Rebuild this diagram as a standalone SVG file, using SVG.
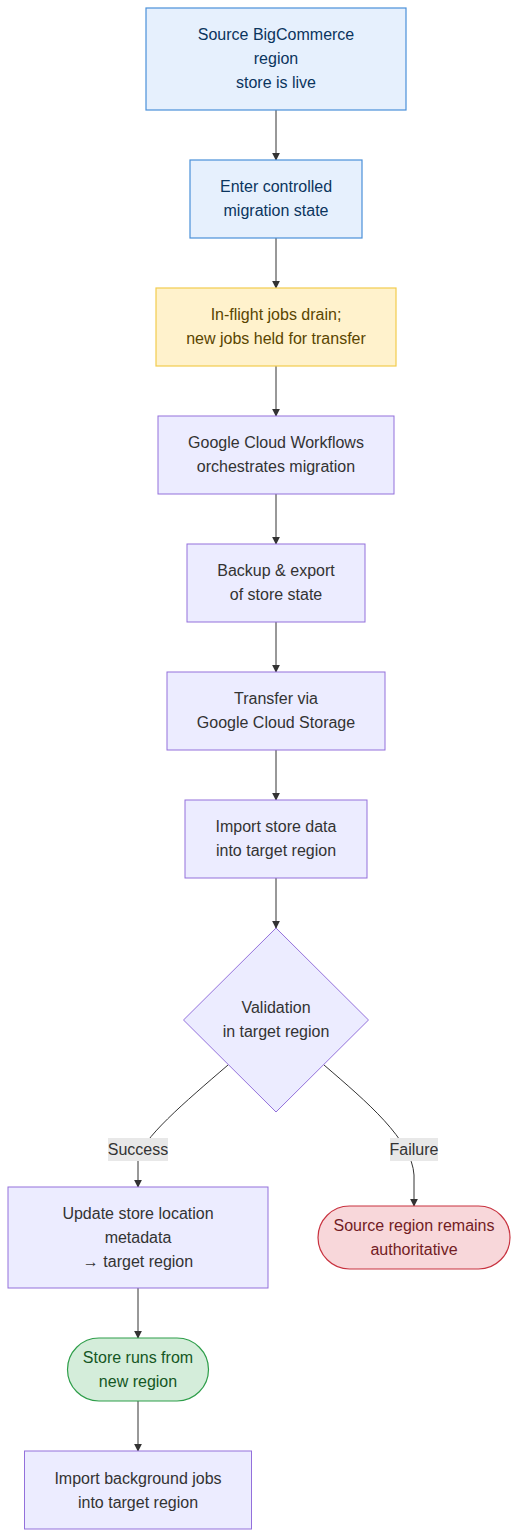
<svg xmlns="http://www.w3.org/2000/svg" width="518" height="1538" viewBox="0 0 518 1538">
<defs>
<marker id="arrow" viewBox="0 0 10 10" refX="9" refY="5" markerWidth="8" markerHeight="8" markerUnits="userSpaceOnUse" orient="auto">
<path d="M0,0 L10,5 L0,10 z" fill="#333333"/>
</marker>
<style>
text{font-family:"Liberation Sans",Arial,sans-serif;font-size:16px;text-anchor:middle;dominant-baseline:central;fill:#333333}
.def{fill:#ECECFF;stroke:#9370DB;stroke-width:1}
.blue{fill:#E6F0FD;stroke:#4A90D9;stroke-width:1.2}
.blue-t{fill:#0B355E}
.yel{fill:#FFF2CC;stroke:#F2CC4E;stroke-width:1.2}
.yel-t{fill:#5A4500}
.red{fill:#F8D7DA;stroke:#C8323F;stroke-width:1.2}
.red-t{fill:#721C24}
.grn{fill:#D4EDDA;stroke:#2E9E4A;stroke-width:1.2}
.grn-t{fill:#155724}
.edge{fill:none;stroke:#333333;stroke-width:1;marker-end:url(#arrow)}
.lbl{fill:#E8E8E8;stroke:none}
</style>
</defs>
<rect width="518" height="1538" fill="#FFFFFF"/>
<g id="connectors">
<path class="edge" d="M276,110 L276,160"/>
<path class="edge" d="M276,238 L276,288"/>
<path class="edge" d="M276,366 L276,416"/>
<path class="edge" d="M276,494 L276,544"/>
<path class="edge" d="M276,622 L276,672"/>
<path class="edge" d="M276,750 L276,800"/>
<path class="edge" d="M276,878 L276,928"/>
<path class="edge" d="M228,1065 C185,1102 140,1140 138,1160 L138,1187"/>
<path class="edge" d="M324,1065 C367,1102 412,1140 414,1175 L414,1206"/>
<path class="edge" d="M138,1288 L138,1338"/>
<path class="edge" d="M138,1401 L138,1451"/>
<g id="label-success">
<rect class="lbl" x="108" y="1138" width="60" height="23"/>
<text x="138" y="1149.5">Success</text>
</g>
<g id="label-failure">
<rect class="lbl" x="390" y="1138" width="48" height="23"/>
<text x="414" y="1149.5">Failure</text>
</g>
</g>
<g id="n1">
<rect class="blue" x="146" y="8" width="260" height="102"/>
<text class="blue-t" x="276" y="34">Source BigCommerce</text>
<text class="blue-t" x="276" y="58">region</text>
<text class="blue-t" x="276" y="82">store is live</text>
</g>
<g id="n2">
<rect class="blue" x="190" y="160" width="172" height="78"/>
<text class="blue-t" x="276" y="186">Enter controlled</text>
<text class="blue-t" x="276" y="210">migration state</text>
</g>
<g id="n3">
<rect class="yel" x="156" y="288" width="240" height="78"/>
<text class="yel-t" x="276" y="314">In-flight jobs drain;</text>
<text class="yel-t" x="276" y="338">new jobs held for transfer</text>
</g>
<g id="n4">
<rect class="def" x="158" y="416" width="236" height="78"/>
<text x="276" y="442">Google Cloud Workflows</text>
<text x="276" y="466">orchestrates migration</text>
</g>
<g id="n5">
<rect class="def" x="187" y="544" width="178" height="78"/>
<text x="276" y="570">Backup &amp; export</text>
<text x="276" y="594">of store state</text>
</g>
<g id="n6">
<rect class="def" x="167" y="672" width="218" height="78"/>
<text x="276" y="698">Transfer via</text>
<text x="276" y="722">Google Cloud Storage</text>
</g>
<g id="n7">
<rect class="def" x="185" y="800" width="182" height="78"/>
<text x="276" y="826">Import store data</text>
<text x="276" y="850">into target region</text>
</g>
<g id="n8">
<polygon class="def" points="276,928 368.5,1020 276,1112 183.5,1020"/>
<text x="276" y="1007">Validation</text>
<text x="276" y="1031">in target region</text>
</g>
<g id="n9">
<rect class="def" x="8" y="1187" width="260" height="101"/>
<text x="138" y="1213">Update store location</text>
<text x="138" y="1237">metadata</text>
<text x="138" y="1261">→ target region</text>
</g>
<g id="n10">
<rect class="red" x="318" y="1206" width="192" height="63" rx="31.5" ry="31.5"/>
<text class="red-t" x="414" y="1225">Source region remains</text>
<text class="red-t" x="414" y="1249">authoritative</text>
</g>
<g id="n11">
<rect class="grn" x="67.5" y="1338" width="141" height="63" rx="31.5" ry="31.5"/>
<text class="grn-t" x="138" y="1357">Store runs from</text>
<text class="grn-t" x="138" y="1381">new region</text>
</g>
<g id="n12">
<rect class="def" x="24.5" y="1451" width="227" height="78"/>
<text x="138" y="1478">Import background jobs</text>
<text x="138" y="1502">into target region</text>
</g>
</svg>
